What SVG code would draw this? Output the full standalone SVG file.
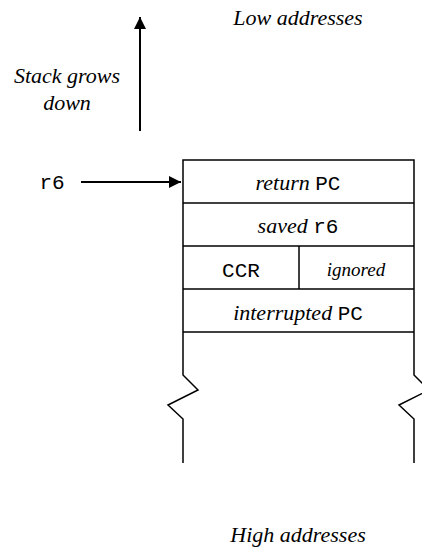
<svg xmlns="http://www.w3.org/2000/svg" width="422" height="550" viewBox="0 0 422 550">
<style>
.ln{stroke:#000;stroke-width:1.5;fill:none}
.ar{stroke:#000;stroke-width:2;fill:none}
</style>
<defs>
<marker id="ah" viewBox="0 0 12 12" refX="12" refY="6" markerWidth="12" markerHeight="12" markerUnits="userSpaceOnUse" orient="auto">
<path d="M0,0 L12,6 L0,12 Z" fill="#000"/>
</marker>
</defs>
<g id="connectors">
<line class="ar" x1="140" y1="131" x2="140" y2="17" marker-end="url(#ah)"/>
<line class="ar" x1="81" y1="182" x2="181" y2="182" marker-end="url(#ah)"/>
</g>
<g id="labels">
<text x="298" y="25" text-anchor="middle" font-family="'Liberation Serif', serif" font-style="italic" font-size="22">Low addresses</text>
<text x="67" y="83" text-anchor="middle" font-family="'Liberation Serif', serif" font-style="italic" font-size="22">Stack grows</text>
<text x="67" y="110" text-anchor="middle" font-family="'Liberation Serif', serif" font-style="italic" font-size="22">down</text>
<text x="298" y="542" text-anchor="middle" font-family="'Liberation Serif', serif" font-style="italic" font-size="22">High addresses</text>
</g>
<g id="r6-label">
<text x="52" y="189" text-anchor="middle" font-family="'Liberation Mono', monospace" font-size="21">r6</text>
</g>
<g id="stack">
<path class="ln" d="M183,332 V160 H414 V332"/>
<path class="ln" d="M183,332 V375 L198,390 L168,405 L183,419 V463"/>
<path class="ln" d="M414,332 V375 L429,390 L399,405 L414,419 V463"/>
<line class="ln" x1="183" y1="203" x2="414" y2="203"/>
<line class="ln" x1="183" y1="246" x2="414" y2="246"/>
<line class="ln" x1="183" y1="289" x2="414" y2="289"/>
<line class="ln" x1="183" y1="332" x2="414" y2="332"/>
<line class="ln" x1="299" y1="246" x2="299" y2="289"/>
</g>
<g id="row-return">
<text x="298" y="190" text-anchor="middle" font-size="21"><tspan font-family="'Liberation Serif', serif" font-style="italic" font-size="22">return </tspan><tspan font-family="'Liberation Mono', monospace">PC</tspan></text>
</g>
<g id="row-saved">
<text x="298" y="233" text-anchor="middle" font-size="21"><tspan font-family="'Liberation Serif', serif" font-style="italic" font-size="22">saved </tspan><tspan font-family="'Liberation Mono', monospace">r6</tspan></text>
</g>
<g id="row-ccr">
<text x="241" y="277" text-anchor="middle" font-family="'Liberation Mono', monospace" font-size="21">CCR</text>
</g>
<g id="row-ignored">
<text x="356" y="276" text-anchor="middle" font-family="'Liberation Serif', serif" font-style="italic" font-size="19">ignored</text>
</g>
<g id="row-interrupted">
<text x="298" y="320" text-anchor="middle" font-size="21"><tspan font-family="'Liberation Serif', serif" font-style="italic" font-size="22">interrupted </tspan><tspan font-family="'Liberation Mono', monospace">PC</tspan></text>
</g>
</svg>
